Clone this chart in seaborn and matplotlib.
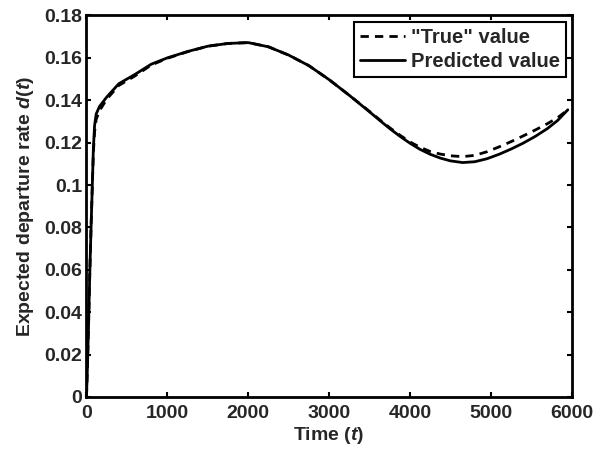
import numpy as np
import pandas as pd
import matplotlib
matplotlib.use("Agg")
import matplotlib.pyplot as plt
import seaborn as sns

# Time points (same grid for both series)
time = [0, 10, 25, 40, 55, 70, 85, 100, 120, 160, 250, 400, 600, 800, 1000,
        1250, 1500, 1750, 2000, 2250, 2500, 2750, 3000, 3250, 3500, 3625,
        3750, 3875, 4000, 4125, 4250, 4375, 4500, 4650, 4800, 4950, 5100,
        5250, 5400, 5550, 5700, 5825, 5950]

# Expected departure rate d(t): "true" values
true_rate = [0.0, 0.012, 0.033, 0.057, 0.078, 0.097, 0.115, 0.125, 0.131,
             0.135, 0.1405, 0.1470, 0.1515, 0.1566, 0.1598, 0.1629, 0.1655,
             0.1668, 0.1672, 0.1652, 0.1613, 0.1563, 0.1497, 0.1423, 0.1347,
             0.1308, 0.1270, 0.1235, 0.1203, 0.1178, 0.1158, 0.1146, 0.1138,
             0.1134, 0.1140, 0.1157, 0.1180, 0.1205, 0.1232, 0.1260, 0.1290,
             0.1318, 0.1355]

# Expected departure rate d(t): predicted values
pred_rate = [0.0, 0.012, 0.033, 0.057, 0.078, 0.097, 0.117, 0.128, 0.1335,
             0.137, 0.1415, 0.1478, 0.1522, 0.1570, 0.1600, 0.1630, 0.1655,
             0.1668, 0.1672, 0.1652, 0.1613, 0.1563, 0.1497, 0.1423, 0.1345,
             0.1305, 0.1266, 0.1230, 0.1197, 0.1168, 0.1145, 0.1127, 0.1114,
             0.1106, 0.1110, 0.1124, 0.1145, 0.1170, 0.1198, 0.1230, 0.1267,
             0.1305, 0.1355]

series_names = ['"True" value', 'Predicted value']

x_ticks = [0, 1000, 2000, 3000, 4000, 5000, 6000]
y_ticks = [0, 0.02, 0.04, 0.06, 0.08, 0.10, 0.12, 0.14, 0.16, 0.18]
y_tick_labels = ["0", "0.02", "0.04", "0.06", "0.08", "0.1", "0.12",
                 "0.14", "0.16", "0.18"]

sns.set_theme(style="white")
plt.rcParams["font.family"] = ["Liberation Sans", "DejaVu Sans"]
plt.rcParams["font.weight"] = "bold"
plt.rcParams["axes.labelweight"] = "bold"
plt.rcParams["mathtext.fontset"] = "custom"
plt.rcParams["mathtext.it"] = "Liberation Sans:style=italic:weight=bold"
plt.rcParams["mathtext.rm"] = "Liberation Sans:weight=bold"

df_true = pd.DataFrame({"t": time, "d": true_rate})
df_pred = pd.DataFrame({"t": time, "d": pred_rate})

fig = plt.figure(figsize=(6.09, 4.55), dpi=100)
ax = fig.add_axes([0.142, 0.1275, 0.797, 0.8385])

sns.lineplot(data=df_true, x="t", y="d", ax=ax, color="black", lw=2.0,
             label=series_names[0])
sns.lineplot(data=df_pred, x="t", y="d", ax=ax, color="black", lw=2.0,
             label=series_names[1])
ax.lines[0].set_dashes((3, 2.2))
for ln in ax.lines:
    ln.set_solid_joinstyle("round")
    ln.set_dash_joinstyle("round")

ax.set_xlim(0, 6000)
ax.set_ylim(0, 0.18)
ax.set_xticks(x_ticks)
ax.set_xticklabels([str(v) for v in x_ticks])
ax.set_yticks(y_ticks)
ax.set_yticklabels(y_tick_labels)

ax.tick_params(axis="both", which="both", direction="in", length=3.6,
               width=1.5, color="black", labelsize=14, top=True, right=True,
               bottom=True, left=True)
ax.tick_params(axis="x", pad=6)
ax.tick_params(axis="y", pad=3)
for lab in ax.get_xticklabels() + ax.get_yticklabels():
    lab.set_fontweight("bold")

for sp in ax.spines.values():
    sp.set_visible(True)
    sp.set_color("black")
    sp.set_linewidth(2.0)

ax.set_xlabel(r"Time ($\mathit{t}$)", fontsize=14, fontweight="bold",
              labelpad=2)
ax.set_ylabel(r"Expected departure rate $\mathit{d}$($\mathit{t}$)",
              fontsize=14, fontweight="bold", labelpad=6)

leg = ax.legend(loc="upper right", fontsize=14.5, frameon=True,
                fancybox=False, framealpha=1, edgecolor="black",
                handlelength=2.2, handletextpad=0.3, labelspacing=0.25,
                borderpad=0.3, borderaxespad=0.3)
leg.get_frame().set_linewidth(1.5)
for txt in leg.get_texts():
    txt.set_fontweight("bold")

fig.savefig("out.png", dpi=100, facecolor="white")
